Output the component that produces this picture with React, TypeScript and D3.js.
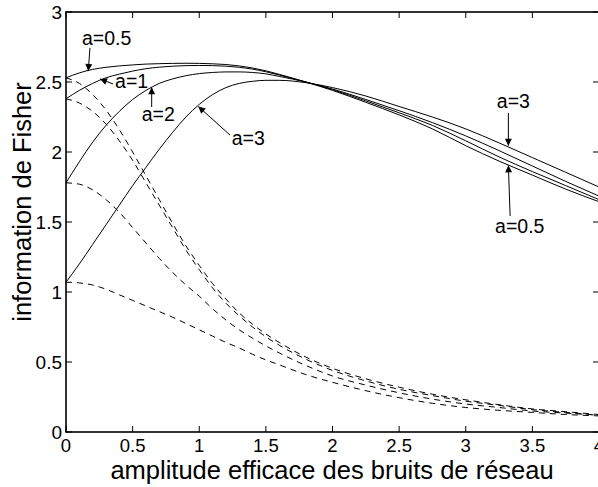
import React from 'react'
import * as d3 from 'd3'

// amplitude grid (x) shared by all series
const xs = [0, 0.1, 0.2, 0.3, 0.4, 0.5, 0.6, 0.7, 0.8, 0.9, 1.0, 1.1, 1.2, 1.3, 1.4, 1.5, 1.6, 1.8, 2.0, 2.25, 2.5, 2.75, 3.0, 3.25, 3.5, 3.75, 4.0]

// solid curves
const solidA05 = [2.53, 2.565, 2.59, 2.605, 2.615, 2.622, 2.628, 2.631, 2.633, 2.634, 2.633, 2.63, 2.625, 2.615, 2.6, 2.58, 2.555, 2.5, 2.44, 2.355, 2.265, 2.165, 2.045, 1.935, 1.835, 1.735, 1.645]
const solidA1 = [2.38, 2.44, 2.49, 2.53, 2.556, 2.578, 2.595, 2.606, 2.613, 2.617, 2.618, 2.617, 2.613, 2.605, 2.592, 2.573, 2.55, 2.5, 2.445, 2.365, 2.28, 2.19, 2.08, 1.965, 1.86, 1.76, 1.66]
const solidA2 = [1.78, 1.93, 2.07, 2.19, 2.29, 2.375, 2.44, 2.49, 2.522, 2.545, 2.56, 2.568, 2.572, 2.572, 2.568, 2.558, 2.54, 2.5, 2.45, 2.375, 2.295, 2.21, 2.115, 2.01, 1.9, 1.79, 1.685]
const solidA3 = [1.07, 1.2, 1.34, 1.48, 1.62, 1.76, 1.89, 2.02, 2.14, 2.25, 2.34, 2.41, 2.46, 2.49, 2.505, 2.512, 2.512, 2.495, 2.46, 2.4, 2.325, 2.25, 2.165, 2.065, 1.96, 1.855, 1.75]

// dashed curves
const dashA05 = [2.53, 2.49, 2.41, 2.3, 2.16, 2.0, 1.83, 1.66, 1.49, 1.33, 1.19, 1.06, 0.95, 0.85, 0.77, 0.7, 0.64, 0.535, 0.455, 0.38, 0.32, 0.27, 0.23, 0.195, 0.165, 0.145, 0.125]
const dashA1 = [2.38, 2.35, 2.29, 2.2, 2.08, 1.94, 1.78, 1.62, 1.46, 1.3, 1.16, 1.03, 0.92, 0.83, 0.75, 0.68, 0.62, 0.52, 0.44, 0.365, 0.305, 0.26, 0.22, 0.19, 0.16, 0.14, 0.12]
const dashA2 = [1.78, 1.77, 1.73, 1.66, 1.57, 1.46, 1.35, 1.24, 1.14, 1.05, 0.97, 0.88, 0.8, 0.73, 0.67, 0.615, 0.565, 0.475, 0.4, 0.335, 0.28, 0.235, 0.2, 0.175, 0.15, 0.135, 0.12]
const dashA3 = [1.07, 1.065, 1.05, 1.02, 0.98, 0.94, 0.9, 0.86, 0.82, 0.775, 0.73, 0.685, 0.64, 0.6, 0.555, 0.515, 0.48, 0.41, 0.355, 0.295, 0.245, 0.205, 0.175, 0.155, 0.14, 0.125, 0.115]

const xTicks = [0, 0.5, 1, 1.5, 2, 2.5, 3, 3.5, 4]
const yTicks = [0, 0.5, 1, 1.5, 2, 2.5, 3]

// labels: text anchor, arrow tail, arrow tip (data units)
const labels = [
  { t: 'a=0.5', tx: 0.12, ty: 2.764, x1: 0.18, y1: 2.743, x2: 0.167, y2: 2.578 },
  { t: 'a=1', tx: 0.368, ty: 2.457, x1: 0.353, y1: 2.486, x2: 0.255, y2: 2.522 },
  { t: 'a=2', tx: 0.568, ty: 2.218, x1: 0.643, y1: 2.321, x2: 0.643, y2: 2.462 },
  { t: 'a=3', tx: 1.244, ty: 2.05, x1: 1.231, y1: 2.121, x2: 0.993, y2: 2.325 },
  { t: 'a=3', tx: 3.233, ty: 2.311, x1: 3.32, y1: 2.279, x2: 3.32, y2: 2.045 },
  { t: 'a=0.5', tx: 3.22, ty: 1.421, x1: 3.333, y1: 1.543, x2: 3.32, y2: 1.905 },
]

const W = 598
const H = 487
const m = { left: 66, right: 599, top: 12, bottom: 432 }
const font = 'Liberation Sans, Arial, Helvetica, sans-serif'

export default function App() {
  const x = d3.scaleLinear().domain([0, 4]).range([m.left, m.right])
  const y = d3.scaleLinear().domain([0, 3]).range([m.bottom, m.top])
  const line = d3.line<number>().x((_, i) => x(xs[i])).y(d => y(d)).curve(d3.curveMonotoneX)
  const solids = [solidA05, solidA1, solidA2, solidA3]
  const dashes = [dashA05, dashA1, dashA2, dashA3]
  const tk = 6

  return (
    <svg width={W} height={H} style={{ position: 'absolute', left: 0, top: 0, background: '#fff' }} fontFamily={font}>
      <defs>
        <marker id="ah" viewBox="0 0 10 10" refX="10" refY="5" markerWidth="9" markerHeight="7" markerUnits="userSpaceOnUse" orient="auto">
          <path d="M0,0 L10,5 L0,10 z" fill="#000" />
        </marker>
      </defs>
      <rect x={0} y={0} width={W} height={H} fill="#fff" />
      {dashes.map((d, i) => (
        <path key={'d' + i} d={line(d) ?? ''} fill="none" stroke="#000" strokeWidth={1} strokeDasharray="6,5" />
      ))}
      {solids.map((d, i) => (
        <path key={'s' + i} d={line(d) ?? ''} fill="none" stroke="#000" strokeWidth={1} />
      ))}
      {/* axes box */}
      <rect x={m.left} y={m.top} width={m.right - m.left} height={m.bottom - m.top} fill="none" stroke="#000" strokeWidth={1.6} />
      {xTicks.map(t => (
        <g key={'xt' + t}>
          <line x1={x(t)} x2={x(t)} y1={m.bottom} y2={m.bottom - tk} stroke="#000" />
          <line x1={x(t)} x2={x(t)} y1={m.top} y2={m.top + tk} stroke="#000" />
          <text x={x(t)} y={452} textAnchor="middle" fontSize={18.5}>{t}</text>
        </g>
      ))}
      {yTicks.map(t => (
        <g key={'yt' + t}>
          <line x1={m.left} x2={m.left + tk} y1={y(t)} y2={y(t)} stroke="#000" />
          <line x1={m.right} x2={m.right - tk} y1={y(t)} y2={y(t)} stroke="#000" />
          <text x={62} y={y(t)} dy="0.35em" textAnchor="end" fontSize={19}>{t}</text>
        </g>
      ))}
      <text x={332} y={479} textAnchor="middle" fontSize={25.5}>amplitude efficace des bruits de réseau</text>
      <text transform="translate(31,202) rotate(-90)" textAnchor="middle" fontSize={25.5}>information de Fisher</text>
      {labels.map((l, i) => (
        <g key={'l' + i}>
          <line x1={x(l.x1)} y1={y(l.y1)} x2={x(l.x2)} y2={y(l.y2)} stroke="#000" strokeWidth={1} markerEnd="url(#ah)" />
          <text x={x(l.tx)} y={y(l.ty)} fontSize={19.5}>{l.t}</text>
        </g>
      ))}
    </svg>
  )
}
